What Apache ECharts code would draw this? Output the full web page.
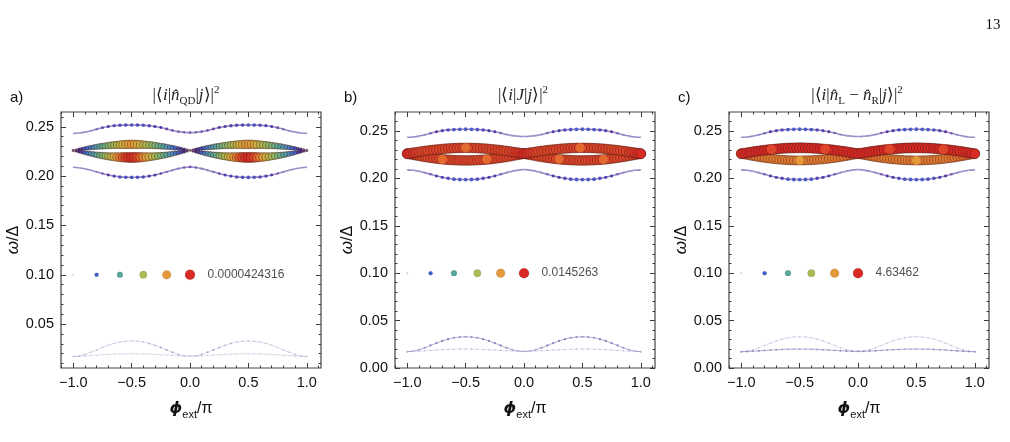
<!DOCTYPE html>
<html>
<head>
<meta charset="utf-8">
<title>matrix elements vs phase</title>
<script src="https://cdn.jsdelivr.net/npm/echarts@6.0.0/dist/echarts.min.js"></script>
<style>
html, body { margin: 0; padding: 0; background: #fff; }
#chart { width: 1010px; height: 442px; }
</style>
</head>
<body>
<div id="chart"></div>
<script>
// phase points (phi_ext / pi) for the thin curves
var phi = [-1, -0.95, -0.9, -0.85, -0.8, -0.75, -0.7, -0.65, -0.6, -0.55, -0.5,
  -0.45, -0.4, -0.35, -0.3, -0.25, -0.2, -0.15, -0.1, -0.05, 0,
  0.05, 0.1, 0.15, 0.2, 0.25, 0.3, 0.35, 0.4, 0.45, 0.5,
  0.55, 0.6, 0.65, 0.7, 0.75, 0.8, 0.85, 0.9, 0.95, 1];
// finer phase points for the lens in the middle
var phiFine = [-1, -0.975, -0.95, -0.925, -0.9, -0.875, -0.85, -0.825, -0.8, -0.775, -0.75,
  -0.725, -0.7, -0.675, -0.65, -0.625, -0.6, -0.575, -0.55, -0.525, -0.5,
  -0.475, -0.45, -0.425, -0.4, -0.375, -0.35, -0.325, -0.3, -0.275, -0.25,
  -0.225, -0.2, -0.175, -0.15, -0.125, -0.1, -0.075, -0.05, -0.025, 0,
  0.025, 0.05, 0.075, 0.1, 0.125, 0.15, 0.175, 0.2, 0.225, 0.25,
  0.275, 0.3, 0.325, 0.35, 0.375, 0.4, 0.425, 0.45, 0.475, 0.5,
  0.525, 0.55, 0.575, 0.6, 0.625, 0.65, 0.675, 0.7, 0.725, 0.75,
  0.775, 0.8, 0.825, 0.85, 0.875, 0.9, 0.925, 0.95, 0.975, 1];

// transition energies omega/Delta (same in all three panels)
var topCurve = [0.2433, 0.2437, 0.2446, 0.2460, 0.2476, 0.2491, 0.2503, 0.2511, 0.2515, 0.2517, 0.2518,
  0.2517, 0.2515, 0.2511, 0.2503, 0.2492, 0.2478, 0.2463, 0.2451, 0.2444, 0.2441,
  0.2444, 0.2451, 0.2463, 0.2478, 0.2492, 0.2503, 0.2511, 0.2515, 0.2517, 0.2518,
  0.2517, 0.2515, 0.2511, 0.2503, 0.2491, 0.2476, 0.2460, 0.2446, 0.2437, 0.2433];
var bottomCurve = [0.2090, 0.2085, 0.2075, 0.2060, 0.2043, 0.2026, 0.2011, 0.2000, 0.1992, 0.1988, 0.1987,
  0.1988, 0.1992, 0.2000, 0.2011, 0.2026, 0.2043, 0.2060, 0.2076, 0.2087, 0.2093,
  0.2087, 0.2076, 0.2060, 0.2043, 0.2026, 0.2011, 0.2000, 0.1992, 0.1988, 0.1987,
  0.1988, 0.1992, 0.2000, 0.2011, 0.2026, 0.2043, 0.2060, 0.2075, 0.2085, 0.2090];
var humpCurve = [0.0172, 0.0178, 0.0193, 0.0214, 0.0238, 0.0262, 0.0285, 0.0304, 0.0318, 0.0326, 0.0329,
  0.0326, 0.0318, 0.0304, 0.0285, 0.0262, 0.0238, 0.0214, 0.0193, 0.0180, 0.0175,
  0.0180, 0.0193, 0.0214, 0.0238, 0.0262, 0.0285, 0.0304, 0.0318, 0.0326, 0.0329,
  0.0326, 0.0318, 0.0304, 0.0285, 0.0262, 0.0238, 0.0214, 0.0193, 0.0178, 0.0172];
var flatCurve = [0.0172, 0.0174, 0.0177, 0.0181, 0.0185, 0.0189, 0.0193, 0.0196, 0.0198, 0.0199, 0.0200,
  0.0199, 0.0198, 0.0196, 0.0193, 0.0189, 0.0186, 0.0182, 0.0179, 0.0177, 0.0176,
  0.0177, 0.0179, 0.0182, 0.0186, 0.0189, 0.0193, 0.0196, 0.0198, 0.0199, 0.0200,
  0.0199, 0.0198, 0.0196, 0.0193, 0.0189, 0.0185, 0.0181, 0.0177, 0.0174, 0.0172];
var lensUpper = [0.2260, 0.2265, 0.2270, 0.2275, 0.2280, 0.2285, 0.2289, 0.2293, 0.2297, 0.2301, 0.2304,
  0.2307, 0.2310, 0.2313, 0.2315, 0.2317, 0.2319, 0.2320, 0.2321, 0.2322, 0.2322,
  0.2322, 0.2321, 0.2320, 0.2319, 0.2317, 0.2315, 0.2313, 0.2310, 0.2307, 0.2304,
  0.2301, 0.2297, 0.2293, 0.2289, 0.2285, 0.2280, 0.2275, 0.2270, 0.2265, 0.2261,
  0.2265, 0.2270, 0.2275, 0.2280, 0.2285, 0.2289, 0.2293, 0.2297, 0.2301, 0.2304,
  0.2307, 0.2310, 0.2313, 0.2315, 0.2317, 0.2319, 0.2320, 0.2321, 0.2322, 0.2322,
  0.2322, 0.2321, 0.2320, 0.2319, 0.2317, 0.2315, 0.2313, 0.2310, 0.2307, 0.2304,
  0.2301, 0.2297, 0.2293, 0.2289, 0.2285, 0.2280, 0.2275, 0.2270, 0.2265, 0.2260];
var lensLower = [0.2260, 0.2255, 0.2249, 0.2243, 0.2237, 0.2231, 0.2226, 0.2221, 0.2216, 0.2212, 0.2208,
  0.2204, 0.2201, 0.2198, 0.2196, 0.2194, 0.2192, 0.2191, 0.2190, 0.2189, 0.2189,
  0.2189, 0.2190, 0.2191, 0.2192, 0.2194, 0.2196, 0.2198, 0.2201, 0.2204, 0.2208,
  0.2212, 0.2216, 0.2221, 0.2226, 0.2231, 0.2237, 0.2243, 0.2249, 0.2255, 0.2261,
  0.2255, 0.2249, 0.2243, 0.2237, 0.2231, 0.2226, 0.2221, 0.2216, 0.2212, 0.2208,
  0.2204, 0.2201, 0.2198, 0.2196, 0.2194, 0.2192, 0.2191, 0.2190, 0.2189, 0.2189,
  0.2189, 0.2190, 0.2191, 0.2192, 0.2194, 0.2196, 0.2198, 0.2201, 0.2204, 0.2208,
  0.2212, 0.2216, 0.2221, 0.2226, 0.2231, 0.2237, 0.2243, 0.2249, 0.2255, 0.2260];

// matrix element weights, relative to each panel's largest value
var aTopW = [0.01, 0.01, 0.02, 0.04, 0.06, 0.09, 0.11, 0.13, 0.15, 0.16, 0.16,
  0.16, 0.15, 0.14, 0.12, 0.10, 0.09, 0.08, 0.07, 0.07, 0.07,
  0.07, 0.07, 0.08, 0.09, 0.10, 0.12, 0.14, 0.15, 0.16, 0.16,
  0.16, 0.15, 0.13, 0.11, 0.09, 0.06, 0.04, 0.02, 0.01, 0.01];
var aBotW = [0.01, 0.01, 0.01, 0.02, 0.04, 0.07, 0.10, 0.13, 0.15, 0.16, 0.16,
  0.16, 0.15, 0.13, 0.11, 0.08, 0.06, 0.05, 0.05, 0.07, 0.08,
  0.07, 0.05, 0.05, 0.06, 0.08, 0.11, 0.13, 0.15, 0.16, 0.16,
  0.16, 0.15, 0.13, 0.10, 0.07, 0.04, 0.02, 0.01, 0.01, 0.01];
var aHumpW = [0.00, 0.00, 0.01, 0.01, 0.01, 0.01, 0.01, 0.01, 0.01, 0.01, 0.01,
  0.01, 0.01, 0.02, 0.02, 0.03, 0.03, 0.03, 0.02, 0.01, 0.00,
  0.01, 0.02, 0.03, 0.03, 0.03, 0.02, 0.02, 0.01, 0.01, 0.01,
  0.01, 0.01, 0.01, 0.01, 0.01, 0.01, 0.01, 0.01, 0.00, 0.00];
var aFlatW = [0.01, 0.01, 0.01, 0.00, 0.00, 0.00, 0.00, 0.00, 0.00, 0.00, 0.00,
  0.00, 0.00, 0.00, 0.00, 0.00, 0.00, 0.00, 0.01, 0.01, 0.01,
  0.01, 0.01, 0.00, 0.00, 0.00, 0.00, 0.00, 0.00, 0.00, 0.00,
  0.00, 0.00, 0.00, 0.00, 0.00, 0.00, 0.00, 0.01, 0.01, 0.01];
var aUpW = [0.04, 0.07, 0.10, 0.14, 0.18, 0.22, 0.26, 0.30, 0.34, 0.38, 0.42,
  0.46, 0.50, 0.54, 0.58, 0.62, 0.66, 0.70, 0.74, 0.77, 0.79,
  0.77, 0.74, 0.70, 0.66, 0.62, 0.58, 0.54, 0.50, 0.46, 0.42,
  0.38, 0.34, 0.30, 0.26, 0.22, 0.18, 0.14, 0.10, 0.06, 0.02,
  0.06, 0.10, 0.14, 0.18, 0.22, 0.26, 0.30, 0.34, 0.38, 0.42,
  0.46, 0.50, 0.54, 0.58, 0.62, 0.66, 0.70, 0.74, 0.77, 0.79,
  0.77, 0.74, 0.70, 0.66, 0.62, 0.58, 0.54, 0.50, 0.46, 0.42,
  0.38, 0.34, 0.30, 0.26, 0.22, 0.18, 0.14, 0.10, 0.07, 0.04];
var aLoW = [0.04, 0.08, 0.12, 0.16, 0.21, 0.25, 0.30, 0.35, 0.40, 0.45, 0.50,
  0.55, 0.61, 0.66, 0.72, 0.78, 0.84, 0.90, 0.95, 0.98, 1.00,
  0.98, 0.95, 0.90, 0.84, 0.78, 0.72, 0.66, 0.61, 0.55, 0.50,
  0.45, 0.40, 0.35, 0.30, 0.25, 0.21, 0.16, 0.12, 0.07, 0.02,
  0.07, 0.12, 0.16, 0.21, 0.25, 0.30, 0.35, 0.40, 0.45, 0.50,
  0.55, 0.61, 0.66, 0.72, 0.78, 0.84, 0.90, 0.95, 0.98, 1.00,
  0.98, 0.95, 0.90, 0.84, 0.78, 0.72, 0.66, 0.61, 0.55, 0.50,
  0.45, 0.40, 0.35, 0.30, 0.25, 0.21, 0.16, 0.12, 0.08, 0.04];

var bcTopW = [0.01, 0.01, 0.02, 0.04, 0.07, 0.10, 0.13, 0.15, 0.17, 0.18, 0.18,
  0.18, 0.17, 0.15, 0.13, 0.10, 0.07, 0.04, 0.02, 0.01, 0.01,
  0.01, 0.02, 0.04, 0.07, 0.10, 0.13, 0.15, 0.17, 0.18, 0.18,
  0.18, 0.17, 0.15, 0.13, 0.10, 0.07, 0.04, 0.02, 0.01, 0.01];
var bcBotW = [0.01, 0.01, 0.02, 0.04, 0.07, 0.10, 0.13, 0.15, 0.17, 0.18, 0.18,
  0.18, 0.17, 0.15, 0.13, 0.10, 0.07, 0.04, 0.02, 0.01, 0.01,
  0.01, 0.02, 0.04, 0.07, 0.10, 0.13, 0.15, 0.17, 0.18, 0.18,
  0.18, 0.17, 0.15, 0.13, 0.10, 0.07, 0.04, 0.02, 0.01, 0.01];
var bHumpW = [0.02, 0.02, 0.03, 0.04, 0.05, 0.05, 0.05, 0.05, 0.04, 0.04, 0.04,
  0.04, 0.04, 0.05, 0.05, 0.05, 0.05, 0.04, 0.03, 0.02, 0.02,
  0.02, 0.03, 0.04, 0.05, 0.05, 0.05, 0.05, 0.04, 0.04, 0.04,
  0.04, 0.04, 0.05, 0.05, 0.05, 0.05, 0.04, 0.03, 0.02, 0.02];
var bFlatW = [0.01, 0.01, 0.01, 0.01, 0.01, 0.01, 0.01, 0.01, 0.01, 0.01, 0.01,
  0.01, 0.01, 0.01, 0.01, 0.01, 0.01, 0.01, 0.01, 0.01, 0.01,
  0.01, 0.01, 0.01, 0.01, 0.01, 0.01, 0.01, 0.01, 0.01, 0.01,
  0.01, 0.01, 0.01, 0.01, 0.01, 0.01, 0.01, 0.01, 0.01, 0.01];
var bLensW = [1.00, 0.99, 0.98, 0.97, 0.96, 0.95, 0.95, 0.95, 0.95, 0.95, 0.95,
  0.95, 0.95, 0.95, 0.95, 0.95, 0.95, 0.95, 0.95, 0.95, 0.95,
  0.95, 0.95, 0.95, 0.95, 0.95, 0.95, 0.95, 0.95, 0.95, 0.95,
  0.95, 0.95, 0.95, 0.95, 0.95, 0.96, 0.97, 0.98, 0.99, 1.00,
  0.99, 0.98, 0.97, 0.96, 0.95, 0.95, 0.95, 0.95, 0.95, 0.95,
  0.95, 0.95, 0.95, 0.95, 0.95, 0.95, 0.95, 0.95, 0.95, 0.95,
  0.95, 0.95, 0.95, 0.95, 0.95, 0.95, 0.95, 0.95, 0.95, 0.95,
  0.95, 0.95, 0.95, 0.95, 0.95, 0.96, 0.97, 0.98, 0.99, 1.00];
var cHumpW = [0.01, 0.01, 0.01, 0.01, 0.01, 0.01, 0.01, 0.01, 0.01, 0.01, 0.01,
  0.01, 0.01, 0.01, 0.01, 0.01, 0.01, 0.01, 0.01, 0.01, 0.01,
  0.01, 0.01, 0.01, 0.01, 0.01, 0.01, 0.01, 0.01, 0.01, 0.01,
  0.01, 0.01, 0.01, 0.01, 0.01, 0.01, 0.01, 0.01, 0.01, 0.01];
var cFlatW = [0.04, 0.04, 0.04, 0.04, 0.03, 0.03, 0.03, 0.03, 0.02, 0.02, 0.02,
  0.02, 0.02, 0.03, 0.03, 0.03, 0.03, 0.04, 0.04, 0.04, 0.04,
  0.04, 0.04, 0.04, 0.03, 0.03, 0.03, 0.03, 0.02, 0.02, 0.02,
  0.02, 0.02, 0.03, 0.03, 0.03, 0.03, 0.04, 0.04, 0.04, 0.04];
var cUpW = [1.00, 1.00, 1.00, 1.00, 1.00, 1.00, 1.00, 1.00, 1.00, 1.00, 1.00,
  1.00, 1.00, 1.00, 1.00, 1.00, 1.00, 1.00, 1.00, 1.00, 1.00,
  1.00, 1.00, 1.00, 1.00, 1.00, 1.00, 1.00, 1.00, 1.00, 1.00,
  1.00, 1.00, 1.00, 1.00, 1.00, 1.00, 1.00, 1.00, 1.00, 1.00,
  1.00, 1.00, 1.00, 1.00, 1.00, 1.00, 1.00, 1.00, 1.00, 1.00,
  1.00, 1.00, 1.00, 1.00, 1.00, 1.00, 1.00, 1.00, 1.00, 1.00,
  1.00, 1.00, 1.00, 1.00, 1.00, 1.00, 1.00, 1.00, 1.00, 1.00,
  1.00, 1.00, 1.00, 1.00, 1.00, 1.00, 1.00, 1.00, 1.00, 1.00];
var cLoW = [0.94, 0.92, 0.90, 0.89, 0.88, 0.87, 0.87, 0.86, 0.86, 0.85, 0.85,
  0.85, 0.85, 0.85, 0.85, 0.85, 0.85, 0.85, 0.85, 0.85, 0.85,
  0.85, 0.85, 0.85, 0.85, 0.85, 0.85, 0.85, 0.85, 0.85, 0.85,
  0.85, 0.86, 0.86, 0.87, 0.87, 0.88, 0.89, 0.90, 0.92, 0.94,
  0.92, 0.90, 0.89, 0.88, 0.87, 0.87, 0.86, 0.86, 0.85, 0.85,
  0.85, 0.85, 0.85, 0.85, 0.85, 0.85, 0.85, 0.85, 0.85, 0.85,
  0.85, 0.85, 0.85, 0.85, 0.85, 0.85, 0.85, 0.85, 0.85, 0.85,
  0.85, 0.86, 0.86, 0.87, 0.87, 0.88, 0.89, 0.90, 0.92, 0.94];

// single markers that sit on top of the lens
var bHighPhi = [-0.7, -0.5, -0.32, 0.3, 0.48, 0.68];
var bHighOmega = [0.2201, 0.2322, 0.2204, 0.2204, 0.2322, 0.2201];
var bHighW = [0.88, 0.88, 0.88, 0.88, 0.88, 0.88];
var cHighPhi = [-0.74, -0.5, -0.28, 0.27, 0.5, 0.73];
var cHighOmega = [0.2306, 0.2189, 0.2308, 0.2308, 0.2189, 0.2306];
var cHighW = [0.95, 0.8, 0.95, 0.95, 0.8, 0.95];

// size/colour key drawn inside each panel
var keyPhi = [-1, -0.8, -0.6, -0.4, -0.2, 0];
var keyW = [0, 0.2, 0.4, 0.6, 0.8, 1];
var keyOmega = 0.10;
var keyTextPhi = 0.15;
var keyMax = ['0.0000424316', '0.0145263', '4.63462'];

// axes
var xMajorTicks = [-1, -0.5, 0, 0.5, 1];
var xMinorTicks = [-1.1, -0.9, -0.8, -0.7, -0.6, -0.4, -0.3, -0.2, -0.1, 0.1, 0.2, 0.3, 0.4, 0.6, 0.7, 0.8, 0.9, 1.1];
var yMajorA = [0.05, 0.10, 0.15, 0.20, 0.25];
var yMajorBC = [0, 0.05, 0.10, 0.15, 0.20, 0.25];
var yMinorTicks = [0.01, 0.02, 0.03, 0.04, 0.06, 0.07, 0.08, 0.09, 0.11, 0.12, 0.13, 0.14,
  0.16, 0.17, 0.18, 0.19, 0.21, 0.22, 0.23, 0.24, 0.26];

var panelLetters = ['a)', 'b)', 'c)'];
var titles = [
  '{n||⟨}{i|i}{n||}{i|n\u0302}{s|QD}{n||}{i|j}{n|⟩|}{p|2}',
  '{n||⟨}{i|i}{n||}{i|J}{n||}{i|j}{n|⟩|}{p|2}',
  '{n||⟨}{i|i}{n||}{i|n\u0302}{s|L}{n| − }{i|n\u0302}{s|R}{n||}{i|j}{n|⟩|}{p|2}'
];

var panels = [
  {left: 61, ymin: 0.0055, ymax: 0.265, yMajor: yMajorA, titleX: 186,
    top: aTopW, bot: aBotW, up: aUpW, lo: aLoW, hump: aHumpW, flat: aFlatW,
    hiPhi: [], hiOmega: [], hiW: [], lineOp: [0.18, 0.15, 0.55, 0.55]},
  {left: 395, ymin: 0, ymax: 0.27, yMajor: yMajorBC, titleX: 523,
    top: bcTopW, bot: bcBotW, up: bLensW, lo: bLensW, hump: bHumpW, flat: bFlatW,
    hiPhi: bHighPhi, hiOmega: bHighOmega, hiW: bHighW, lineOp: [0.4, 0.15, 0.55, 0.55]},
  {left: 729, ymin: 0, ymax: 0.27, yMajor: yMajorBC, titleX: 857,
    top: bcTopW, bot: bcBotW, up: cUpW, lo: cLoW, hump: cHumpW, flat: cFlatW,
    hiPhi: cHighPhi, hiOmega: cHighOmega, hiW: cHighW, lineOp: [0.15, 0.4, 0.55, 0.55]}
];

var XMIN = -1.105, XMAX = 1.122;
var tickColor = '#3a3a3a';

function fmtX(v) { return (v < 0 ? '\u2212' : '') + Math.abs(v).toFixed(1); }
function fmtY(v) { return v.toFixed(2); }
function sizeOf(v) { return 1.2 + 8.8 * Math.pow(v[2], 0.7); }

function makeAxis(gi, pos, min, max, ticks, len, labels, fmt) {
  return {
    gridIndex: gi, type: 'value', min: min, max: max, position: pos,
    axisLine: {show: false, onZero: false},
    splitLine: {show: false},
    axisTick: {show: true, inside: true, length: len, customValues: ticks,
      lineStyle: {color: tickColor, width: 1}},
    axisLabel: labels ? {show: true, customValues: labels, formatter: fmt, fontSize: 14.5,
      fontFamily: 'Liberation Sans', color: '#111', margin: 7} : {show: false}
  };
}

var grids = [], xAxes = [], yAxes = [], series = [], mapped = [], graphics = [];

function add(s, isMapped) {
  if (isMapped) mapped.push(series.length);
  series.push(s);
}

panels.forEach(function (p, gi) {
  grids.push({left: p.left, top: 112, width: 260, height: 256, show: true,
    borderColor: '#444', borderWidth: 1.2, backgroundColor: 'transparent'});

  var xb = makeAxis(gi, 'bottom', XMIN, XMAX, xMajorTicks, 5, xMajorTicks, fmtX);
  xb.name = '{p|ϕ}{s|ext}{n|/π}';
  xb.nameLocation = 'middle';
  xb.nameGap = 30;
  xb.nameTextStyle = {rich: {
    p: {fontFamily: 'DejaVu Sans', fontStyle: 'italic', fontWeight: 'bold', fontSize: 16, lineHeight: 22, color: '#111'},
    s: {fontFamily: 'Liberation Sans', fontSize: 11, lineHeight: 10, verticalAlign: 'bottom', color: '#111'},
    n: {fontFamily: 'Liberation Sans', fontSize: 16, lineHeight: 22, color: '#111'}
  }};
  xAxes.push(xb);
  xAxes.push(makeAxis(gi, 'bottom', XMIN, XMAX, xMinorTicks, 2.5));
  xAxes.push(makeAxis(gi, 'top', XMIN, XMAX, xMajorTicks, 5));
  xAxes.push(makeAxis(gi, 'top', XMIN, XMAX, xMinorTicks, 2.5));

  var yl = makeAxis(gi, 'left', p.ymin, p.ymax, p.yMajor, 5, p.yMajor, fmtY);
  yl.name = '{w|ω}{n|/Δ}';
  yl.nameLocation = 'middle';
  yl.nameGap = 38;
  yl.nameTextStyle = {rich: {
    w: {fontFamily: 'Liberation Sans', fontStyle: 'italic', fontSize: 17, color: '#111'},
    n: {fontFamily: 'Liberation Sans', fontSize: 16, color: '#111'}
  }};
  yAxes.push(yl);
  yAxes.push(makeAxis(gi, 'left', p.ymin, p.ymax, yMinorTicks, 2.5));
  yAxes.push(makeAxis(gi, 'right', p.ymin, p.ymax, p.yMajor, 5));
  yAxes.push(makeAxis(gi, 'right', p.ymin, p.ymax, yMinorTicks, 2.5));

  var ax = gi * 4;
  var curves = [
    {y: humpCurve, w: p.hump, op: p.lineOp[0], lw: 1},
    {y: flatCurve, w: p.flat, op: p.lineOp[1], lw: 1},
    {y: topCurve, w: p.top, op: p.lineOp[2], lw: 1.6},
    {y: bottomCurve, w: p.bot, op: p.lineOp[3], lw: 1.6}
  ];
  // faint trace under the thin curves
  curves.forEach(function (c) {
    add({type: 'line', xAxisIndex: ax, yAxisIndex: ax, silent: true, z: 1,
      data: phi.map(function (x, i) { return [x, c.y[i]]; }),
      showSymbol: false, smooth: true,
      lineStyle: {color: '#46289a', width: c.lw, opacity: c.op}}, false);
  });
  curves.forEach(function (c) {
    add({type: 'scatter', xAxisIndex: ax, yAxisIndex: ax, silent: true, z: 2,
      data: phi.map(function (x, i) { return [x, c.y[i], c.w[i]]; }),
      symbolSize: sizeOf, itemStyle: {opacity: 0.9}}, true);
  });
  // the two lens branches
  [[lensLower, p.lo], [lensUpper, p.up]].forEach(function (b, k) {
    add({type: 'scatter', xAxisIndex: ax, yAxisIndex: ax, silent: true, z: 3 + k,
      data: phiFine.map(function (x, i) { return [x, b[0][i], b[1][i]]; }),
      symbolSize: sizeOf,
      itemStyle: {opacity: 1, borderColor: 'rgba(70,25,15,0.7)', borderWidth: 0.7}}, true);
  });
  if (p.hiPhi.length) {
    add({type: 'scatter', xAxisIndex: ax, yAxisIndex: ax, silent: true, z: 6,
      data: p.hiPhi.map(function (x, i) { return [x, p.hiOmega[i], p.hiW[i]]; }),
      symbolSize: sizeOf, itemStyle: {opacity: 1}}, true);
  }
  // key
  add({type: 'scatter', xAxisIndex: ax, yAxisIndex: ax, silent: true, z: 6,
    data: keyPhi.map(function (x, i) { return [x, keyOmega, keyW[i]]; }),
    symbolSize: sizeOf,
    itemStyle: {opacity: 1, borderColor: 'rgba(0,0,0,0.2)', borderWidth: 0.5}}, true);
  add({type: 'scatter', xAxisIndex: ax, yAxisIndex: ax, silent: true, z: 6,
    data: [[keyTextPhi, keyOmega]], symbolSize: 0.1,
    itemStyle: {color: 'rgba(0,0,0,0)'},
    label: {show: true, position: 'right', distance: 0, formatter: keyMax[gi],
      fontFamily: 'Liberation Sans', fontSize: 12, color: '#222'}}, false);

  graphics.push({type: 'text', x: p.left - 51, y: 98, style: {text: panelLetters[gi],
    font: '15px "Liberation Sans"', fill: '#111', verticalAlign: 'middle'}});
  graphics.push({type: 'text', x: p.titleX, y: 96, style: {text: titles[gi],
    align: 'center', verticalAlign: 'middle', fill: '#222',
    rich: {
      n: {fontFamily: 'Liberation Serif', fontSize: 17, lineHeight: 22, fill: '#222'},
      i: {fontFamily: 'Liberation Serif', fontStyle: 'italic', fontSize: 17, lineHeight: 22, fill: '#222'},
      s: {fontFamily: 'Liberation Serif', fontSize: 11, lineHeight: 10, verticalAlign: 'bottom', fill: '#222'},
      p: {fontFamily: 'Liberation Serif', fontSize: 11, lineHeight: 10, verticalAlign: 'top', fill: '#222'}
    }}});
});

graphics.push({type: 'text', x: 993, y: 25, style: {text: '13',
  font: '15px "Liberation Serif"', fill: '#111', align: 'center', verticalAlign: 'middle'}});

var chart = echarts.init(document.getElementById('chart'));
chart.setOption({
  animation: false,
  backgroundColor: '#fff',
  grid: grids,
  xAxis: xAxes,
  yAxis: yAxes,
  visualMap: {
    type: 'continuous', show: false, dimension: 2, min: 0, max: 1,
    seriesIndex: mapped,
    inRange: {color: ['#c9c3d6', '#4a2597', '#3e5ecb', '#4a8fc2', '#58aa9d', '#7fb97a',
      '#a8be55', '#d0b344', '#e5993a', '#e2602d', '#d92a26']}
  },
  graphic: graphics,
  series: series
});
</script>
</body>
</html>
